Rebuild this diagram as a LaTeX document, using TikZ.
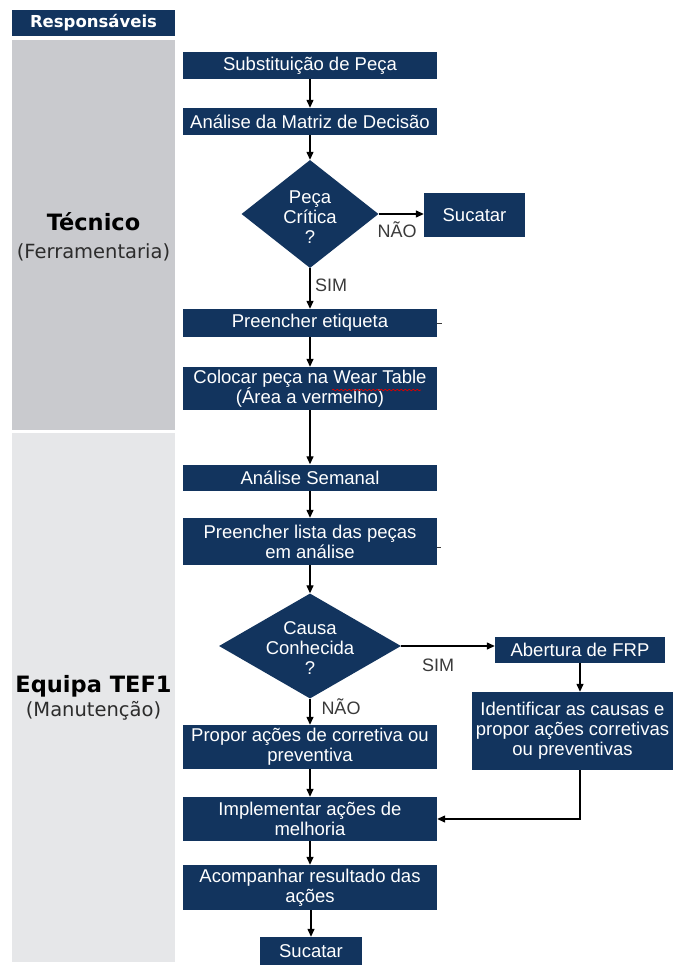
\documentclass[tikz,border=0pt]{standalone}
\usepackage{fontspec}
\setmainfont{Liberation Sans}
\newfontfamily\rolefont{DejaVu Sans}
\usetikzlibrary{arrows.meta,shapes.geometric,decorations.pathmorphing}

\definecolor{navy}{HTML}{12345E}
\definecolor{laneA}{HTML}{C9CACE}
\definecolor{laneB}{HTML}{E6E7E9}
\definecolor{lbl}{HTML}{3A3A3A}
\definecolor{rolegray}{HTML}{2C2C2C}

\begin{document}
\begin{tikzpicture}[x=1pt,y=-1pt,
  box/.style={fill=navy, text=white, inner sep=1pt, align=center,
    minimum width=254pt, font=\fontsize{18.5}{20}\selectfont},
  decision/.style={diamond, fill=navy, inner sep=0pt},
  dtext/.style={text=white, align=center, font=\fontsize{18.5}{20}\selectfont},
  hdr/.style={fill=navy, text=white, inner sep=0pt, minimum width=163pt,
    minimum height=26pt, font=\rolefont\bfseries\fontsize{16.5}{18}\selectfont},
  lane/.style={inner sep=0pt, minimum width=163pt},
  role/.style={text=black, font=\rolefont\bfseries\fontsize{22.5}{24}\selectfont},
  rolesub/.style={text=rolegray, font=\rolefont\fontsize{19.5}{22}\selectfont},
  note/.style={text=lbl, inner sep=0pt, font=\fontsize{18}{20}\selectfont},
  flow/.style={line width=1.3pt, draw=black, -{Triangle[width=7pt,length=8pt]}},
  stub/.style={line width=1pt, draw=lbl}
]
% page
\fill[white] (0,0) rectangle (673,965);
\useasboundingbox (0,0) rectangle (673,965);

% swimlane column
\node[hdr] (head) at (93.5,23) {Responsáveis};
\node[lane, fill=laneA, minimum height=390pt] (laneT) at (93.5,235) {};
\node[lane, fill=laneB, minimum height=529pt] (laneE) at (93.5,697.5) {};
\node[role] (tecA) at (93.5,222) {Técnico};
\node[rolesub] (tecB) at (93.5,252) {(Ferramentaria)};
\node[role] (eqA) at (93.5,686) {Equipa TEF1};
\node[rolesub] (eqB) at (93.5,711) {(Manutenção)};

% process steps
\node[box, minimum height=27pt] (sub) at (310,65.5) {Substituição de Peça};
\node[box, minimum height=27pt] (mat) at (310,121.5) {Análise da Matriz de Decisão};
\node[decision, minimum width=137pt, minimum height=108pt] (d1) at (310,214) {};
\node[dtext] (d1t) at (310,217) {Peça\\Crítica\\?};
\node[box, minimum width=101pt, minimum height=44pt] (suc1) at (474.5,215) {Sucatar};
\node[box, minimum height=28pt] (pre) at (310,323) {Preencher etiqueta};
\node[box, minimum height=43pt] (col) at (310,388.5) {Colocar peça na Wear Table\\(Área a vermelho)};
\node[box, minimum height=26pt] (sem) at (310,477.5) {Análise Semanal};
\node[box, minimum height=47pt] (lista) at (310,541.5) {Preencher lista das peças\\em análise};
\node[decision, minimum width=182pt, minimum height=105pt] (d2) at (310,646) {};
\node[dtext] (d2t) at (310,648) {Causa\\Conhecida\\?};
\node[box, minimum width=170pt, minimum height=26pt] (frp) at (580,650) {Abertura de FRP};
\node[box, minimum width=201pt, minimum height=78pt] (ident) at (572.5,731)
  {Identificar as causas e\\propor ações corretivas\\ou preventivas};
\node[box, minimum height=44pt] (prop) at (310,747) {Propor ações de corretiva ou\\preventiva};
\node[box, minimum height=44pt] (impl) at (310,819) {Implementar ações de\\melhoria};
\node[box, minimum height=45pt] (acomp) at (310,887.5) {Acompanhar resultado das\\ações};
\node[box, minimum width=102pt, minimum height=28pt] (suc2) at (311,951) {Sucatar};

% spell-check mark under "Wear Table"
\draw[red!85!black, line width=0.7pt, decorate,
  decoration={snake, segment length=4pt, amplitude=0.8pt}] (332,390) -- (421,390);

% small leftover ticks on the right of two boxes
\draw[stub] (pre.east) -- ++(5,0);
\draw[stub] ([yshift=-6pt]lista.east) -- ++(4,0);

% connectors
\draw[flow] (sub) -- (mat);
\draw[flow] (mat) -- (d1);
\draw[flow] (d1.east) -- (d1.east -| suc1.west);
\draw[flow] (d1) -- (pre);
\draw[flow] (pre) -- (col);
\draw[flow] (col) -- (sem);
\draw[flow] (sem) -- (lista);
\draw[flow] (lista) -- (d2);
\draw[flow] (d2.east) -- (d2.east -| frp.west);
\draw[flow] (d2) -- (prop);
\draw[flow] (frp.south) -- (frp.south |- ident.north);
\draw[flow] (prop) -- (impl);
\draw[flow] (ident.south -| frp.south) |- (impl.east);
\draw[flow] (impl) -- (acomp);
\draw[flow] (acomp.south -| suc2.north) -- (suc2.north);

% branch labels
\node[note] (no1) at (397,230) {NÃO};
\node[note] (yes1) at (331,285) {SIM};
\node[note] (yes2) at (438,665) {SIM};
\node[note] (no2) at (341,707) {NÃO};
\end{tikzpicture}
\end{document}
